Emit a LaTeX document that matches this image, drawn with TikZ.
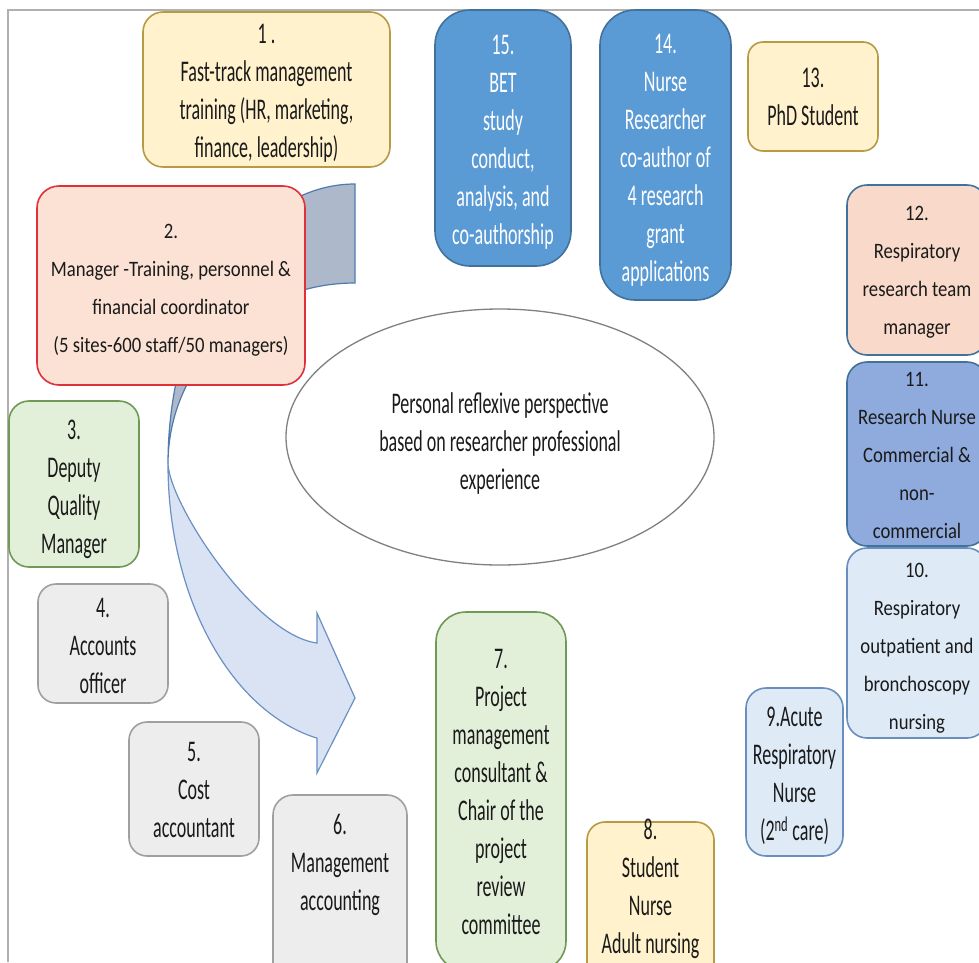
\documentclass[tikz,border=0pt]{standalone}
\usepackage{fontspec}
\setmainfont{Carlito}
\newfontfamily\condf{Carlito}[FakeStretch=0.6]
\newfontfamily\normf{Carlito}[FakeStretch=0.85]
\usetikzlibrary{shapes.geometric}

\definecolor{ink}{HTML}{1A1A1A}
\definecolor{frameC}{HTML}{B0B0B0}
\definecolor{yelF}{HTML}{FFF2CC}
\definecolor{yelD}{HTML}{B89A45}
\definecolor{blueF}{HTML}{5B9BD5}
\definecolor{blueD}{HTML}{41719C}
\definecolor{peachF}{HTML}{FBE2D5}
\definecolor{peach2F}{HTML}{F9DACA}
\definecolor{redD}{HTML}{E0303A}
\definecolor{midF}{HTML}{8FAADC}
\definecolor{paleF}{HTML}{DEEBF7}
\definecolor{paleD}{HTML}{6A8EBE}
\definecolor{greenF}{HTML}{E2F0D9}
\definecolor{greenD}{HTML}{6F9A56}
\definecolor{greyF}{HTML}{EDEDED}
\definecolor{greyD}{HTML}{A0A0A0}
\definecolor{ellD}{HTML}{808080}
\definecolor{backF}{HTML}{ADB9CA}
\definecolor{backD}{HTML}{4F7BAE}
\definecolor{frontF}{HTML}{DAE3F3}
\definecolor{frontD}{HTML}{6A90C4}

\tikzset{
  x=1pt, y=-1pt,
  card/.style={draw, line width=1.6pt, rectangle, inner sep=0pt},
  yel/.style={card, fill=yelF, draw=yelD},
  deep/.style={card, fill=blueF, draw=blueD},
  peach/.style={card, fill=peachF, draw=redD},
  peachb/.style={card, fill=peach2F, draw=blueD},
  mid/.style={card, fill=midF, draw=blueD},
  pale/.style={card, fill=paleF, draw=paleD},
  grn/.style={card, fill=greenF, draw=greenD},
  gry/.style={card, fill=greyF, draw=greyD},
  lbl/.style={inner sep=0pt, align=center, text=ink},
  cond/.style={lbl, font=\condf\fontsize{30}{38}\selectfont},
  norm/.style={lbl, font=\normf\fontsize{22}{38}\selectfont},
}

\begin{document}
\begin{tikzpicture}
\useasboundingbox (0,0) rectangle (979,962);
\clip (0,0) rectangle (979,962);
\fill[white] (0,0) rectangle (979,962);

% page frame
\draw[frameC, line width=1.5pt] (8,962) -- (8,10) -- (979,10);

% curved arrow: back band
\filldraw[fill=backF, draw=backD, line width=1.2pt]
  (355,184) arc[start angle=270, end angle=180, x radius=187, y radius=280]
  arc[start angle=180, end angle=270, x radius=187, y radius=181]
  -- cycle;
% curved arrow: front band with head
\filldraw[fill=frontF, draw=frontD, line width=1.2pt]
  (168,464) arc[start angle=180, end angle=101.7, x radius=187, y radius=280]
  -- (317,773) -- (355,698) -- (317,613) -- (317,643)
  .. controls (255,635) and (170,505) .. (168,464) -- cycle;

% centre ellipse
\node[ellipse, draw=ellD, line width=1.3pt, fill=white, inner sep=0pt,
      minimum width=428, minimum height=256] (core) at (500,437) {};
\node[cond] (tc) at (500,443)
  {Personal reflexive perspective\\based on researcher professional\\experience};

% career steps: boxes
\node[yel,   rounded corners=20pt, minimum width=247, minimum height=155] (s1)  at (266.5,89.5) {};
\node[peach, rounded corners=22pt, minimum width=268, minimum height=199] (s2)  at (171,285.5) {};
\node[grn,   rounded corners=20pt, minimum width=130, minimum height=166] (s3)  at (74,484) {};
\node[gry,   rounded corners=18pt, minimum width=130, minimum height=119] (s4)  at (103,643.5) {};
\node[gry,   rounded corners=18pt, minimum width=130, minimum height=134] (s5)  at (194,789) {};
\node[gry,   rounded corners=20pt, minimum width=134, minimum height=220] (s6)  at (340,905) {};
\node[grn,   rounded corners=30pt, minimum width=130, minimum height=359] (s7)  at (501,791.5) {};
\node[yel,   rounded corners=18pt, minimum width=127, minimum height=180] (s8)  at (650.5,912) {};
\node[pale,  rounded corners=20pt, minimum width=97,  minimum height=168] (s9)  at (794.5,772) {};
\node[pale,  rounded corners=20pt, minimum width=140, minimum height=190] (s10) at (917,643) {};
\node[mid,   rounded corners=20pt, minimum width=140, minimum height=184] (s11) at (917,454) {};
\node[peachb,rounded corners=20pt, minimum width=140, minimum height=170] (s12) at (917,270) {};
\node[yel,   rounded corners=15pt, minimum width=130, minimum height=109] (s13) at (813,96.5) {};
\node[deep,  rounded corners=35pt, minimum width=131, minimum height=290] (s14) at (665.5,155) {};
\node[deep,  rounded corners=35pt, minimum width=136, minimum height=256] (s15) at (503,138) {};

% career steps: texts
\node[cond] (t1) at (266.5,93)
  {1 .\\Fast-track management\\training (HR, marketing,\\finance, leadership)};
\node[norm] (t2) at (171,290)
  {2.\\Manager -Training, personnel \&\\financial coordinator\\(5 sites-600 staff/50 managers)};
\node[cond] (t3) at (74,489) {3.\\Deputy\\Quality\\Manager};
\node[cond] (t4) at (103,646) {4.\\Accounts\\officer};
\node[cond] (t5) at (194,790) {5.\\Cost\\accountant};
\node[cond] (t6) at (340,865) {6.\\Management\\accounting};
\node[cond] (t7) at (501,791.5)
  {7.\\Project\\management\\consultant \&\\Chair of the\\project\\review\\committee};
\node[cond] (t8) at (650.5,889) {8.\\Student\\Nurse\\Adult nursing};
\node[cond] (t9) at (794.5,776) {9.Acute\\Respiratory\\Nurse\\(2\textsuperscript{nd} care)};
\node[norm] (t10) at (917,648) {10.\\Respiratory\\outpatient and\\bronchoscopy\\nursing};
\node[norm] (t11) at (917,455) {11.\\Research Nurse\\Commercial \&\\non-\\commercial};
\node[norm] (t12) at (917,272) {12.\\Respiratory\\research team\\manager};
\node[cond] (t13) at (813,96.5) {13.\\PhD Student};
\node[cond, text=white] (t14) at (665.5,160)
  {14.\\Nurse\\Researcher\\co-author of\\4 research\\grant\\applications};
\node[cond, text=white] (t15) at (503,142.5)
  {15.\\BET\\study\\conduct,\\analysis, and\\co-authorship};
\end{tikzpicture}
\end{document}
